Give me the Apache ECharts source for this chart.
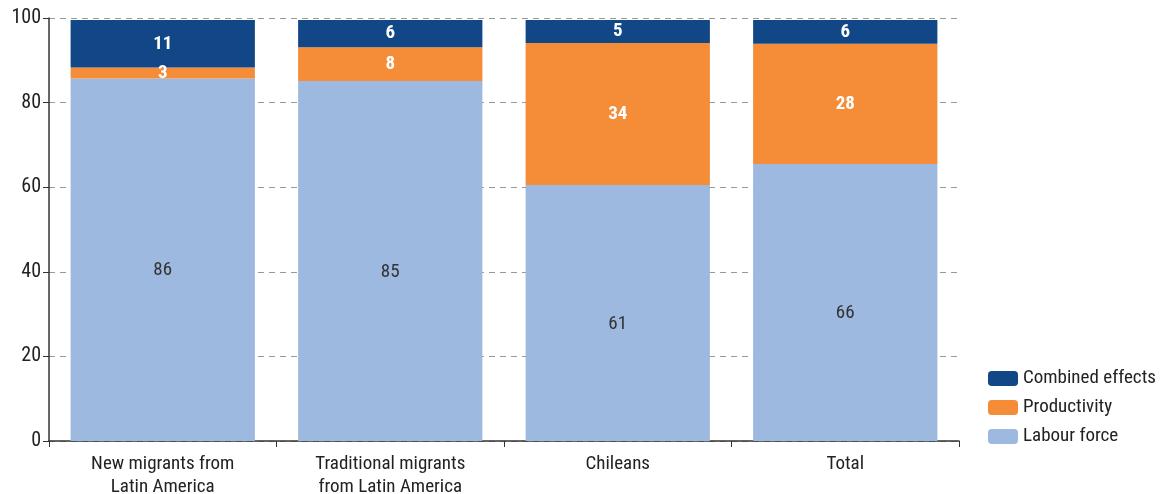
<!DOCTYPE html>
<html>
<head>
<meta charset="utf-8">
<script src="https://cdn.jsdelivr.net/npm/echarts@6/dist/echarts.min.js"></script>
<style>
  html, body { margin: 0; padding: 0; background: #fff; }
  #chart { width: 1165px; height: 494px; }
</style>
</head>
<body>
<div id="chart"></div>
<script>
const categories = ['New migrants from\nLatin America', 'Traditional migrants\nfrom Latin America', 'Chileans', 'Total'];
const labourForce = [85.7, 85.1, 60.5, 65.5];
const productivity = [2.6, 8.0, 33.6, 28.4];
const combinedEffects = [11.2, 6.4, 5.4, 5.6];
const yTicks = [0, 20, 40, 60, 80, 100];

const FONT = '"Roboto Condensed", "Liberation Sans Narrow", "Roboto", sans-serif';

const chart = echarts.init(document.getElementById('chart'));

// segment labels show rounded values
const segLabel = (color, weight, offset) => ({
  show: true,
  position: 'inside',
  offset: offset || [0, 0],
  color: color,
  fontFamily: FONT,
  fontSize: 19,
  fontWeight: weight,
  formatter: p => Math.round(p.value),
});

chart.setOption({
  animation: false,
  grid: { left: 49, right: 206, top: 18, bottom: 53, outerBoundsMode: 'none' },
  legend: {
    orient: 'vertical',
    left: 988,
    top: 369,
    padding: 0,
    itemWidth: 30,
    itemHeight: 15,
    itemGap: 10,
    data: ['Combined effects', 'Productivity', 'Labour force'],
    textStyle: { fontFamily: FONT, fontSize: 19, color: '#222' },
  },
  xAxis: {
    type: 'category',
    data: categories,
    axisLine: { lineStyle: { color: '#333', width: 1.5 } },
    axisTick: { show: true, length: 6, lineStyle: { color: '#333' } },
    axisLabel: { fontFamily: FONT, fontSize: 19, color: '#222', margin: 12, lineHeight: 23 },
  },
  yAxis: {
    type: 'value',
    min: 0,
    max: 100,
    interval: 20,
    axisLine: { show: true, lineStyle: { color: '#333', width: 1.5 } },
    axisTick: { show: true, length: 6, lineStyle: { color: '#333' } },
    axisLabel: {
      fontFamily: FONT, fontSize: 20, color: '#222', margin: 8,
      formatter: v => (yTicks.includes(v) ? String(v) : ''),
    },
    splitLine: { lineStyle: { color: '#999', type: [6, 5], width: 1 } },
  },
  series: [
    {
      name: 'Labour force',
      type: 'bar',
      stack: 'total',
      barWidth: '81%',
      itemStyle: { color: '#9DB9E0' },
      label: segLabel('#333', 'normal', [0, 11]),
      data: labourForce,
    },
    {
      name: 'Productivity',
      type: 'bar',
      stack: 'total',
      itemStyle: { color: '#F58C38' },
      label: segLabel('#fff', 'bold'),
      data: productivity,
    },
    {
      name: 'Combined effects',
      type: 'bar',
      stack: 'total',
      itemStyle: { color: '#114787' },
      label: segLabel('#fff', 'bold'),
      data: combinedEffects,
    },
  ],
});
</script>
</body>
</html>
